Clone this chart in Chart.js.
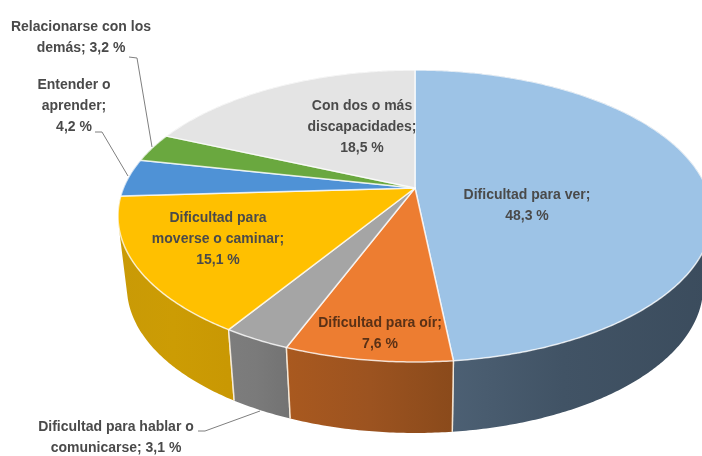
<!DOCTYPE html>
<html>
<head>
<meta charset="utf-8">
<title>Discapacidades</title>
<script src="https://cdn.jsdelivr.net/npm/chart.js@4"></script>
<style>
  html, body { margin: 0; padding: 0; background: #fff; overflow: hidden; }
  canvas { display: block; filter: blur(0.45px); }
</style>
</head>
<body>
<canvas id="pieChart" width="702" height="456"></canvas>
<script>
// Data
var categories = [
  "Dificultad para ver",
  "Dificultad para oír",
  "Dificultad para hablar o comunicarse",
  "Dificultad para moverse o caminar",
  "Entender o aprender",
  "Relacionarse con los demás",
  "Con dos o más discapacidades"
];
var values = [48.3, 7.6, 3.1, 15.1, 4.2, 3.2, 18.5];
var labelLines = [
  ["Dificultad para ver;", "48,3 %"],
  ["Dificultad para oír;", "7,6 %"],
  ["Dificultad para hablar o", "comunicarse; 3,1 %"],
  ["Dificultad para", "moverse o caminar;", "15,1 %"],
  ["Entender o", "aprender;", "4,2 %"],
  ["Relacionarse con los", "demás; 3,2 %"],
  ["Con dos o más", "discapacidades;", "18,5 %"]
];

// Styling
var topColors = ["#9dc3e6", "#ed7d31", "#a5a5a5", "#ffc000", "#4f92d6", "#6aa83f", "#e4e4e4"];
var wallColors = [
  ["#506478", "#415365", "#3b4c5d"],
  ["#a9591f", "#9c5320", "#8a4a1b"],
  ["#7d7d7d", "#7a7a7a", "#737373"],
  ["#c99a06", "#cc9c04", "#c99803"],
  ["#3a6ea3", "#3a6ea3", "#3a6ea3"],
  ["#507d30", "#507d30", "#507d30"],
  ["#aaaaaa", "#aaaaaa", "#aaaaaa"]
];
var labelBoxes = [
  { x: 527, y: 195 },
  { x: 380, y: 323, color: "#5a3116" },
  { x: 116, y: 427 },
  { x: 218, y: 218 },
  { x: 74, y: 85 },
  { x: 81, y: 27 },
  { x: 362, y: 106 }
];
var leaders = [
  [[198, 431], [205, 431], [260, 411]],
  [[95, 132], [102, 132], [128, 176]],
  [[129, 57], [137, 58], [152, 147]]
];

// Perspective of the tilted disc
var apexX = 415, apexY = 188;
var spreadX = 291.5, spreadY = 140.6, tilt = 0.1918;
var depth = 71, bottomShrink = 0.97;

function project(angle, lower) {
  var u = Math.cos(angle);
  var v = Math.sin(angle);
  var w = 1 - tilt * v;
  var x = spreadX * u / w;
  var y = spreadY * v / w;
  if (lower) {
    return { x: apexX + x * bottomShrink, y: apexY + y + depth };
  }
  return { x: apexX + x, y: apexY + y };
}

function arcPoints(start, end, lower) {
  var steps = Math.max(2, Math.ceil((end - start) / 0.01));
  var pts = [];
  for (var i = 0; i <= steps; i++) {
    pts.push(project(start + (end - start) * i / steps, lower));
  }
  return pts;
}

function drawWall(ctx, arc, index) {
  var top = arcPoints(arc.startAngle, arc.endAngle, false);
  var bottom = arcPoints(arc.startAngle, arc.endAngle, true);
  var xs = top.map(function (p) { return p.x; });
  var grad = ctx.createLinearGradient(Math.min.apply(null, xs), 0, Math.max.apply(null, xs), 0);
  grad.addColorStop(0, wallColors[index][0]);
  grad.addColorStop(0.5, wallColors[index][1]);
  grad.addColorStop(1, wallColors[index][2]);
  // one quad per step, all wound the same way so the fill covers the silhouette too
  ctx.beginPath();
  for (var i = 0; i < top.length - 1; i++) {
    var quad = [top[i], top[i + 1], bottom[i + 1], bottom[i]];
    var area = 0;
    quad.forEach(function (p, n) {
      var q = quad[(n + 1) % 4];
      area += p.x * q.y - q.x * p.y;
    });
    if (area < 0) quad.reverse();
    ctx.moveTo(quad[0].x, quad[0].y);
    ctx.lineTo(quad[1].x, quad[1].y);
    ctx.lineTo(quad[2].x, quad[2].y);
    ctx.lineTo(quad[3].x, quad[3].y);
    ctx.closePath();
  }
  ctx.fillStyle = grad;
  ctx.fill();
  // separator on the visible front edges
  ctx.strokeStyle = "rgba(255,245,230,0.8)";
  ctx.lineWidth = 1.5;
  [arc.startAngle, arc.endAngle].forEach(function (a) {
    if (Math.sin(a) > 0.3) {
      var p = project(a, false);
      var q = project(a, true);
      ctx.beginPath();
      ctx.moveTo(p.x, p.y);
      ctx.lineTo(q.x, q.y);
      ctx.stroke();
    }
  });
}

function drawTop(ctx, arc, index) {
  ctx.beginPath();
  ctx.moveTo(apexX, apexY);
  arcPoints(arc.startAngle, arc.endAngle, false).forEach(function (p) {
    ctx.lineTo(p.x, p.y);
  });
  ctx.closePath();
  ctx.fillStyle = topColors[index];
  ctx.fill();
  ctx.strokeStyle = "rgba(255,255,255,0.75)";
  ctx.lineWidth = 1.5;
  ctx.lineJoin = "round";
  ctx.stroke();
}

var disc3d = {
  id: "disc3d",
  // the library has worked out each slice's angles, we only draw them tilted
  beforeDatasetsDraw: function (chart) {
    var ctx = chart.ctx;
    var arcs = chart.getDatasetMeta(0).data;
    var order = arcs.map(function (a, i) { return i; }).sort(function (a, b) {
      return Math.sin((arcs[a].startAngle + arcs[a].endAngle) / 2) -
        Math.sin((arcs[b].startAngle + arcs[b].endAngle) / 2);
    });
    ctx.save();
    order.forEach(function (i) { drawWall(ctx, arcs[i], i); });
    arcs.forEach(function (arc, i) { drawTop(ctx, arc, i); });
    ctx.restore();
    return false;
  },
  afterDraw: function (chart) {
    var ctx = chart.ctx;
    ctx.save();
    ctx.strokeStyle = "#7f7f7f";
    ctx.lineWidth = 1;
    leaders.forEach(function (line) {
      ctx.beginPath();
      line.forEach(function (p, i) {
        if (i === 0) ctx.moveTo(p[0], p[1]);
        else ctx.lineTo(p[0], p[1]);
      });
      ctx.stroke();
    });
    ctx.font = "bold 14px 'Liberation Sans'";
    ctx.textAlign = "center";
    ctx.textBaseline = "middle";
    labelLines.forEach(function (lines, i) {
      ctx.fillStyle = labelBoxes[i].color || "#4a4a4a";
      lines.forEach(function (text, n) {
        ctx.fillText(text, labelBoxes[i].x, labelBoxes[i].y + n * 21);
      });
    });
    ctx.restore();
  }
};

document.addEventListener("DOMContentLoaded", function () {
  var ctx = document.getElementById("pieChart").getContext("2d");
  new Chart(ctx, {
    type: "pie",
    data: {
      labels: categories,
      datasets: [{ data: values, backgroundColor: topColors }]
    },
    options: {
      responsive: false,
      animation: false,
      plugins: {
        legend: { display: false },
        tooltip: { enabled: false }
      }
    },
    plugins: [disc3d]
  });
});
</script>
</body>
</html>
